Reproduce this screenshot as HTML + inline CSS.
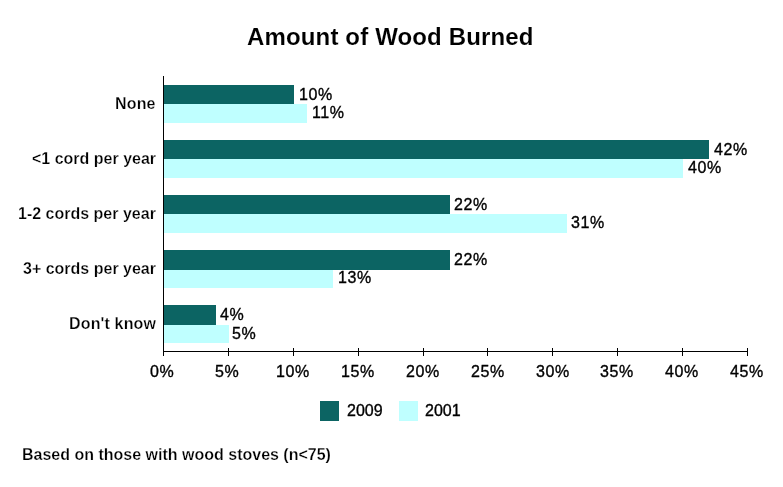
<!DOCTYPE html>
<html><head><meta charset="utf-8"><title>Amount of Wood Burned</title>
<style>
html,body{margin:0;padding:0;background:#fff;}
body{width:783px;height:487px;position:relative;overflow:hidden;font-family:"Liberation Sans",sans-serif;color:#000;}
.t{position:absolute;white-space:nowrap;font-size:16px;line-height:16px;-webkit-text-stroke:0.25px #fff;font-weight:bold;will-change:transform;}
.h{font-size:24px;line-height:24px;-webkit-text-stroke:0.1px #fff;}
.n{font-weight:normal;-webkit-text-stroke:0.35px #000;}
.b{position:absolute;height:19px;}
.d{background:#0c6463;}
.l{background:#bfffff;}
.ln{position:absolute;background:#000;}
</style></head><body>

<div class="t h" style="left:247px;top:25px;letter-spacing:0.15px;">Amount of Wood Burned</div>
<div class="t" style="left:115px;top:96px;letter-spacing:0.15px;">None</div>
<div class="t" style="left:32px;top:151px;letter-spacing:0px;">&lt;1 cord per year</div>
<div class="t" style="left:18px;top:206px;letter-spacing:0px;">1-2 cords per year</div>
<div class="t" style="left:23px;top:261px;letter-spacing:0px;">3+ cords per year</div>
<div class="t" style="left:69px;top:316px;letter-spacing:0.15px;">Don't know</div>
<div class="t n" style="left:299px;top:87px;letter-spacing:0.6px;">10%</div>
<div class="t n" style="left:312px;top:105px;letter-spacing:0.6px;">11%</div>
<div class="t n" style="left:714px;top:142px;letter-spacing:0.6px;">42%</div>
<div class="t n" style="left:688px;top:160px;letter-spacing:0.6px;">40%</div>
<div class="t n" style="left:454px;top:197px;letter-spacing:0.6px;">22%</div>
<div class="t n" style="left:571px;top:215px;letter-spacing:0.6px;">31%</div>
<div class="t n" style="left:454px;top:252px;letter-spacing:0.6px;">22%</div>
<div class="t n" style="left:338px;top:270px;letter-spacing:0.6px;">13%</div>
<div class="t n" style="left:220px;top:307px;letter-spacing:0.6px;">4%</div>
<div class="t n" style="left:232px;top:326px;letter-spacing:0.6px;">5%</div>
<div class="t n" style="left:150px;top:364px;letter-spacing:0.6px;">0%</div>
<div class="t n" style="left:215px;top:364px;letter-spacing:0.6px;">5%</div>
<div class="t n" style="left:276px;top:364px;letter-spacing:0.6px;">10%</div>
<div class="t n" style="left:341px;top:364px;letter-spacing:0.6px;">15%</div>
<div class="t n" style="left:406px;top:364px;letter-spacing:0.6px;">20%</div>
<div class="t n" style="left:471px;top:364px;letter-spacing:0.6px;">25%</div>
<div class="t n" style="left:536px;top:364px;letter-spacing:0.6px;">30%</div>
<div class="t n" style="left:600px;top:364px;letter-spacing:0.6px;">35%</div>
<div class="t n" style="left:665px;top:364px;letter-spacing:0.6px;">40%</div>
<div class="t n" style="left:730px;top:364px;letter-spacing:0.6px;">45%</div>
<div class="t n" style="left:347px;top:403px;letter-spacing:0px;">2009</div>
<div class="t n" style="left:425px;top:403px;letter-spacing:0px;">2001</div>
<div class="t" style="left:22px;top:447px;letter-spacing:0px;">Based on those with wood stoves (n&lt;75)</div>
<div class="ln" style="left:163px;top:76px;width:1px;height:276px;"></div>
<div class="ln" style="left:163px;top:351px;width:585px;height:1px;"></div>
<div class="ln" style="left:163px;top:348px;width:1px;height:8px;"></div>
<div class="ln" style="left:228px;top:348px;width:1px;height:8px;"></div>
<div class="ln" style="left:293px;top:348px;width:1px;height:8px;"></div>
<div class="ln" style="left:358px;top:348px;width:1px;height:8px;"></div>
<div class="ln" style="left:423px;top:348px;width:1px;height:8px;"></div>
<div class="ln" style="left:487px;top:348px;width:1px;height:8px;"></div>
<div class="ln" style="left:552px;top:348px;width:1px;height:8px;"></div>
<div class="ln" style="left:617px;top:348px;width:1px;height:8px;"></div>
<div class="ln" style="left:682px;top:348px;width:1px;height:8px;"></div>
<div class="ln" style="left:747px;top:348px;width:1px;height:8px;"></div>
<div class="b d" style="left:164px;top:85px;width:130px;height:19px;"></div>
<div class="b l" style="left:164px;top:104px;width:143px;height:19px;"></div>
<div class="b d" style="left:164px;top:140px;width:545px;height:19px;"></div>
<div class="b l" style="left:164px;top:159px;width:519px;height:19px;"></div>
<div class="b d" style="left:164px;top:195px;width:286px;height:19px;"></div>
<div class="b l" style="left:164px;top:214px;width:403px;height:19px;"></div>
<div class="b d" style="left:164px;top:250px;width:286px;height:20px;"></div>
<div class="b l" style="left:164px;top:270px;width:169px;height:18px;"></div>
<div class="b d" style="left:164px;top:305px;width:52px;height:20px;"></div>
<div class="b l" style="left:164px;top:325px;width:65px;height:18px;"></div>
<div class="b d" style="left:320px;top:401px;width:19px;height:20px;"></div>
<div class="b l" style="left:399px;top:401px;width:19px;height:20px;"></div>
</body></html>
